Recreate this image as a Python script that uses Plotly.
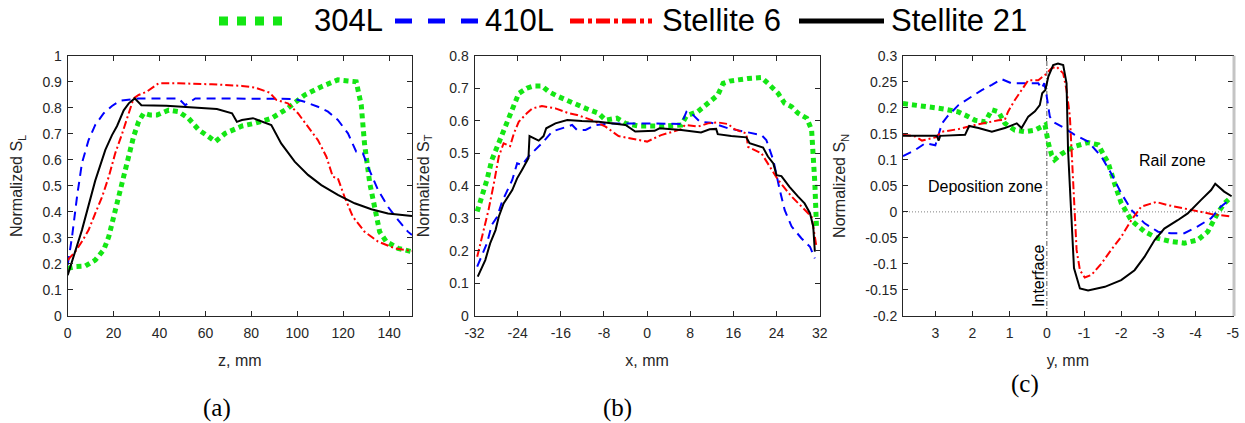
import plotly.graph_objects as go

# ---------------- data ----------------
series_names = ["304L", "410L", "Stellite 6", "Stellite 21"]

# (a) longitudinal, z in mm
a_z_304L = [0, 3.3, 7.7, 12, 15.7, 17.9, 20, 22.2, 24.4, 26.6, 28.7, 30.9, 33.1, 36, 38.9, 44, 48.3, 52.7,
            57.1, 61.4, 64.3, 68.7, 73.1, 76, 81.4, 88.7, 95.9, 103.2, 110.5, 117.7, 122.1, 125.7, 127.9,
            129.3, 131.6, 133.7, 135.9, 138.8, 143.9, 150]
a_v_304L = [0.183, 0.19, 0.192, 0.215, 0.254, 0.305, 0.38, 0.458, 0.522, 0.612, 0.689, 0.747, 0.779, 0.772,
            0.772, 0.791, 0.785, 0.759, 0.715, 0.689, 0.67, 0.702, 0.721, 0.73, 0.74, 0.759, 0.798, 0.849,
            0.881, 0.907, 0.903, 0.90, 0.81, 0.663, 0.51, 0.407, 0.324, 0.286, 0.26, 0.247]
a_z_410L = [0, 1.9, 4.05, 6.2, 9.1, 12, 15.7, 19.3, 22.9, 26.6, 30.9, 48.3, 51.2, 55.6, 75.9, 98.9, 103.2,
            109, 113.4, 117.7, 122.1, 125.7, 128.6, 130.8, 135.2, 139.5, 143.9, 148.2, 150]
a_v_410L = [0.196, 0.305, 0.458, 0.587, 0.676, 0.734, 0.779, 0.807, 0.827, 0.832, 0.836, 0.836, 0.81, 0.836,
            0.836, 0.834, 0.823, 0.804, 0.785, 0.753, 0.702, 0.631, 0.625, 0.574, 0.484, 0.42, 0.369, 0.324,
            0.311]
a_z_st6 = [0, 3.3, 6.2, 9.1, 12, 15, 17.9, 20.7, 23.7, 26.6, 28.7, 30.9, 34.5, 39.6, 48.3, 62.8, 75.9, 81.4,
           88, 90.9, 95.9, 100.3, 104.7, 109, 112.7, 115.5, 117.7, 120.6, 124.2, 129.3, 135.2, 142.4, 150]
a_v_st6 = [0.215, 0.247, 0.286, 0.33, 0.394, 0.458, 0.535, 0.625, 0.70, 0.779, 0.836, 0.849, 0.862, 0.894,
           0.894, 0.89, 0.884, 0.878, 0.858, 0.83, 0.817, 0.779, 0.727, 0.676, 0.612, 0.535, 0.529, 0.458,
           0.382, 0.324, 0.286, 0.26, 0.25]
a_z_st21 = [0, 6.2, 12, 16.4, 19.3, 21.5, 24.4, 26.6, 29.2, 32.1, 43, 57.6, 65, 71.6, 73.7, 75.9, 80.7, 88.7,
            93, 98.9, 104.7, 110.5, 117.7, 125, 132.3, 139.5, 150]
a_v_st21 = [0.157, 0.33, 0.52, 0.638, 0.695, 0.73, 0.79, 0.817, 0.836, 0.81, 0.808, 0.80, 0.795, 0.779, 0.746,
            0.753, 0.76, 0.734, 0.663, 0.593, 0.542, 0.503, 0.465, 0.433, 0.41, 0.394, 0.384]

# (b) transverse, x in mm
b_x_304L = [-31.5, -30.6, -29.7, -28.8, -27.8, -26.9, -26, -25, -23.8, -22.3, -21, -19.5, -18.2, -16.4, -13.9,
            -11.4, -9, -7.7, -5.6, -4, -1.6, 0.9, 2.6, 6.35, 7.3, 9.4, 11.6, 13.1, 14.1, 15.3, 18.7, 21.2,
            22.4, 24.3, 25.5, 26.8, 28, 29.6, 30.5, 30.8, 31.1, 31.4]
b_v_304L = [0.321, 0.367, 0.418, 0.479, 0.52, 0.556, 0.597, 0.643, 0.684, 0.70, 0.707, 0.707, 0.689, 0.674,
            0.654, 0.638, 0.623, 0.602, 0.608, 0.592, 0.584, 0.582, 0.584, 0.587, 0.615, 0.628, 0.656, 0.679,
            0.715, 0.722, 0.73, 0.733, 0.715, 0.684, 0.654, 0.643, 0.623, 0.608, 0.572, 0.51, 0.408, 0.275]
b_x_410L = [-31.5, -30.6, -29.7, -28.8, -27.8, -26.9, -26, -25, -24.1, -23.2, -22, -20.7, -19.2, -17.6, -15.8,
            -13.9, -13, -11.4, -9.6, -6.5, 0.9, 6.35, 7.3, 8.2, 9.8, 11.9, 15, 18.1, 21.2, 22.1, 23.4, 24.6,
            25.5, 26.8, 28.6, 30.2, 31.1]
b_v_410L = [0.152, 0.187, 0.223, 0.28, 0.305, 0.351, 0.382, 0.418, 0.469, 0.464, 0.49, 0.51, 0.536, 0.567,
            0.577, 0.587, 0.572, 0.572, 0.587, 0.592, 0.592, 0.59, 0.628, 0.623, 0.597, 0.594, 0.577, 0.567,
            0.556, 0.541, 0.479, 0.387, 0.326, 0.275, 0.239, 0.213, 0.177]
b_x_st6 = [-31.5, -30.6, -29.4, -28.4, -27.5, -26.6, -25.4, -24.7, -23.8, -22.3, -21.3, -19.5, -17, -14.5, -13,
           -10.2, -7.7, -5.3, -2.8, 0, 2.6, 6.35, 7, 9.4, 11.3, 13.1, 15, 16.2, 18.4, 18.7, 21.2, 22.4, 24.3,
           26.8, 29.2, 30.5, 31.4]
b_v_st6 = [0.182, 0.244, 0.326, 0.408, 0.49, 0.531, 0.522, 0.561, 0.597, 0.623, 0.638, 0.645, 0.638, 0.623,
           0.618, 0.602, 0.582, 0.553, 0.546, 0.536, 0.556, 0.574, 0.587, 0.582, 0.592, 0.595, 0.59, 0.574,
           0.561, 0.52, 0.50, 0.469, 0.418, 0.367, 0.326, 0.305, 0.213]
b_x_st21 = [-31.4, -30, -29.1, -28.1, -27.5, -26.6, -25, -24.1, -23.2, -22, -21.8, -20.1, -19.2, -18.7, -17,
            -14.8, -12.1, -9, -4, -2.2, 1.4, 2.3, 6.35, 10, 11.6, 12.8, 13.1, 15.6, 18.4, 19, 21.5, 22.4, 23.4,
            24, 24.9, 26.4, 28, 29.2, 30.2, 30.8, 31.1]
b_v_st21 = [0.121, 0.172, 0.223, 0.264, 0.305, 0.346, 0.387, 0.423, 0.449, 0.485, 0.553, 0.539, 0.553, 0.577,
            0.592, 0.602, 0.599, 0.597, 0.587, 0.567, 0.569, 0.577, 0.572, 0.564, 0.574, 0.575, 0.559, 0.553,
            0.549, 0.531, 0.518, 0.49, 0.469, 0.433, 0.43, 0.397, 0.367, 0.346, 0.316, 0.275, 0.198]

# (c) normal, y in mm
c_y_304L = [3.87, 3.45, 3.0, 2.73, 2.38, 2.11, 1.93, 1.66, 1.48, 1.3, 1.13, 0.86, 0.59, 0.32, 0.05, -0.04,
            -0.13, -0.21, -0.39, -0.75, -1.11, -1.38, -1.65, -1.82, -2.0, -2.27, -2.63, -2.99, -3.34, -3.7,
            -4.06, -4.33, -4.59, -4.77, -4.97]
c_v_304L = [0.208, 0.203, 0.2, 0.197, 0.192, 0.183, 0.176, 0.173, 0.196, 0.192, 0.17, 0.157, 0.154, 0.157,
            0.167, 0.132, 0.109, 0.10, 0.111, 0.126, 0.133, 0.129, 0.094, 0.055, 0.017, -0.016, -0.038, -0.051,
            -0.057, -0.06, -0.054, -0.038, -0.003, 0.016, 0.029]
c_y_410L = [3.87, 3.54, 3.27, 3.0, 2.82, 2.68, 2.38, 2.11, 1.75, 1.48, 1.22, 0.95, 0.59, 0.23, 0.14, 0.07, 0.01,
            -0.08, -0.17, -0.45, -0.75, -1.11, -1.47, -1.73, -2.0, -2.27, -2.63, -2.99, -3.34, -3.7, -4.06,
            -4.42, -4.68, -4.91]
c_v_410L = [0.107, 0.119, 0.132, 0.128, 0.17, 0.183, 0.205, 0.218, 0.234, 0.244, 0.255, 0.247, 0.247, 0.247,
            0.237, 0.247, 0.225, 0.183, 0.173, 0.162, 0.148, 0.135, 0.106, 0.074, 0.036, 0.004, -0.022, -0.038,
            -0.041, -0.041, -0.028, -0.012, 0.01, 0.023]
c_y_st6 = [3.87, 3.54, 3.36, 3.0, 2.82, 2.38, 1.93, 1.48, 1.3, 1.13, 1.04, 0.86, 0.68, 0.5, 0.23, 0.05, -0.13,
           -0.26, -0.44, -0.53, -0.62, -0.71, -0.8, -0.89, -1.02, -1.2, -1.47, -1.73, -2.0, -2.27, -2.54, -2.81,
           -2.94, -3.25, -3.79, -4.42, -4.97]
c_v_st6 = [0.148, 0.145, 0.137, 0.143, 0.154, 0.159, 0.167, 0.174, 0.176, 0.177, 0.193, 0.215, 0.234, 0.253,
           0.253, 0.263, 0.276, 0.279, 0.266, 0.234, 0.183, 0.055, -0.073, -0.112, -0.126, -0.121, -0.099,
           -0.073, -0.048, -0.016, 0.01, 0.016, 0.019, 0.013, 0.005, -0.004, -0.009]
c_y_st21 = [3.87, 2.96, 2.91, 2.87, 2.2, 2.09, 1.84, 1.48, 1.13, 0.81, 0.68, 0.5, 0.32, 0.19, 0.125, 0.04, -0.04,
            -0.17, -0.3, -0.44, -0.53, -0.57, -0.66, -0.73, -0.89, -1.11, -1.56, -2.0, -2.36, -2.63, -2.9,
            -3.16, -3.52, -3.79, -4.15, -4.42, -4.53, -4.77, -4.97]
c_v_st21 = [0.146, 0.146, 0.137, 0.146, 0.148, 0.165, 0.161, 0.154, 0.161, 0.17, 0.161, 0.183, 0.193, 0.205,
            0.228, 0.234, 0.26, 0.282, 0.285, 0.282, 0.247, 0.119, -0.009, -0.108, -0.147, -0.151, -0.144,
            -0.131, -0.112, -0.086, -0.054, -0.032, -0.016, -0.003, 0.023, 0.042, 0.054, 0.039, 0.03]

# tick labels
a_xticks = [0, 20, 40, 60, 80, 100, 120, 140]
a_xticktext = ["0", "20", "40", "60", "80", "100", "120", "140"]
a_yticks = [0, 0.1, 0.2, 0.3, 0.4, 0.5, 0.6, 0.7, 0.8, 0.9, 1]
a_yticktext = ["0", "0.1", "0.2", "0.3", "0.4", "0.5", "0.6", "0.7", "0.8", "0.9", "1"]
b_xticks = [-32, -24, -16, -8, 0, 8, 16, 24, 32]
b_xticktext = ["-32", "-24", "-16", "-8", "0", "8", "16", "24", "32"]
b_yticks = [0, 0.1, 0.2, 0.3, 0.4, 0.5, 0.6, 0.7, 0.8]
b_yticktext = ["0", "0.1", "0.2", "0.3", "0.4", "0.5", "0.6", "0.7", "0.8"]
c_xticks = [3, 2, 1, 0, -1, -2, -3, -4, -5]
c_xticktext = ["3", "2", "1", "0", "-1", "-2", "-3", "-4", "-5"]
c_yticks = [-0.2, -0.15, -0.1, -0.05, 0, 0.05, 0.1, 0.15, 0.2, 0.25, 0.3]
c_yticktext = ["-0.2", "-0.15", "-0.1", "-0.05", "0", "0.05", "0.1", "0.15", "0.2", "0.25", "0.3"]

# ---------------- styles ----------------
W, H = 1245, 423
GREEN, BLUE, RED, BLACK = "#14e614", "#0000ff", "#ff0000", "#000000"
styles = {
    "304L": dict(color=GREEN, width=5, dash="5px,4px"),
    "410L": dict(color=BLUE, width=2, dash="9px,6px"),
    "Stellite 6": dict(color=RED, width=2, dash="8px,3px,2px,3px"),
    "Stellite 21": dict(color=BLACK, width=2),
}
AX = "#262626"
FONT = "Liberation Sans, Arial, sans-serif"

fig = go.Figure()

panels = [
    ("x", "y", [(a_z_304L, a_v_304L), (a_z_410L, a_v_410L), (a_z_st6, a_v_st6), (a_z_st21, a_v_st21)]),
    ("x2", "y2", [(b_x_304L, b_v_304L), (b_x_410L, b_v_410L), (b_x_st6, b_v_st6), (b_x_st21, b_v_st21)]),
    ("x3", "y3", [(c_y_304L, c_v_304L), (c_y_410L, c_v_410L), (c_y_st6, c_v_st6), (c_y_st21, c_v_st21)]),
]
for xa, ya, data in panels:
    for name, (xs, vs) in zip(series_names, data):
        fig.add_trace(go.Scatter(x=xs, y=vs, mode="lines", name=name, line=styles[name],
                                 xaxis=xa, yaxis=ya, showlegend=False))

ydom = [1 - 316 / H, 1 - 55.7 / H]
common = dict(showline=True, linecolor=AX, linewidth=1, mirror="ticks", ticks="inside", ticklen=5,
              tickwidth=1, tickcolor=AX, showgrid=False, zeroline=False, automargin=False,
              tickfont=dict(family=FONT, size=14, color=AX),
              title_font=dict(family=FONT, size=16, color=AX))
xcommon = dict(common, ticklabelstandoff=4)
ycommon = dict(common, ticklabelstandoff=2)

fig.update_layout(
    width=W, height=H, margin=dict(l=0, r=0, t=0, b=0, autoexpand=False),
    paper_bgcolor="white", plot_bgcolor="white", showlegend=False,
    xaxis=dict(xcommon, domain=[67.7 / W, 412 / W], range=[0, 150], tickvals=a_xticks, ticktext=a_xticktext,
               title_text="z, mm", anchor="y"),
    yaxis=dict(ycommon, domain=ydom, range=[0, 1], tickvals=a_yticks, ticktext=a_yticktext,
               title_text="Normalized S<sub>L</sub>", anchor="x"),
    xaxis2=dict(xcommon, domain=[474.5 / W, 819.7 / W], range=[-32, 32], tickvals=b_xticks,
                ticktext=b_xticktext, title_text="x, mm", anchor="y2"),
    yaxis2=dict(ycommon, domain=ydom, range=[0, 0.8], tickvals=b_yticks, ticktext=b_yticktext,
                title_text="Normalized S<sub>T</sub>", anchor="x2"),
    xaxis3=dict(xcommon, domain=[903 / W, 1232.7 / W], range=[3.87, -5], tickvals=c_xticks,
                ticktext=c_xticktext, title_text="y, mm", anchor="y3"),
    yaxis3=dict(ycommon, domain=ydom, range=[-0.2, 0.3], tickvals=c_yticks, ticktext=c_yticktext,
                title_text="Normalized S<sub>N</sub>", anchor="x3"),
)

# reference lines in (c)
fig.add_shape(type="line", xref="x3 domain", yref="y3", x0=0, x1=1, y0=0, y1=0,
              line=dict(color="#808080", width=1, dash="1px,2px"), layer="below")
fig.add_shape(type="line", xref="x3", yref="y3 domain", x0=0, x1=0, y0=0, y1=1,
              line=dict(color="#555555", width=1, dash="5px,2px,1px,2px"), layer="below")
fig.add_shape(type="line", xref="x3 domain", yref="y3 domain", x0=1.004, x1=1.004, y0=0, y1=1,
              line=dict(color="#c4c4c4", width=3))

# annotations in (c)
ann_font = dict(family=FONT, size=16, color="#000000")
fig.add_annotation(x=1.66, y=0.049, xref="x3", yref="y3", text="Deposition zone", showarrow=False, font=ann_font)
fig.add_annotation(x=-3.37, y=0.099, xref="x3", yref="y3", text="Rail zone", showarrow=False, font=ann_font)
fig.add_annotation(x=0.21, y=-0.123, xref="x3", yref="y3", text="Interface", showarrow=False,
                   textangle=-90, font=ann_font)

# panel labels
lab_font = dict(family="Liberation Serif, Times New Roman, serif", size=25, color="#000000")
for txt, px, py in [("(a)", 217, 408), ("(b)", 617, 408), ("(c)", 1025, 384)]:
    fig.add_annotation(x=px / W, y=1 - py / H, xref="paper", yref="paper", text=txt, showarrow=False,
                       font=lab_font, xanchor="center", yanchor="middle")

# manual legend (line samples + labels)
leg_y = 1 - 21 / H
leg_items = [("304L", 219, 290, 312, dict(color=GREEN, width=9, dash="9px,9px")),
             ("410L", 395, 478, 483, dict(color=BLUE, width=5, dash="17px,16px")),
             ("Stellite 6", 570, 652, 660, dict(color=RED, width=5, dash="14px,4px,4px,4px")),
             ("Stellite 21", 799, 884, 889, dict(color=BLACK, width=5))]
for name, x0, x1, tx, ln in leg_items:
    fig.add_shape(type="line", xref="paper", yref="paper", x0=x0 / W, x1=x1 / W, y0=leg_y, y1=leg_y, line=ln)
    fig.add_annotation(x=tx / W, y=leg_y, xref="paper", yref="paper", text=name, showarrow=False,
                       xanchor="left", yanchor="middle", font=dict(family=FONT, size=31, color="#000000"))

fig.write_html("out.html")
